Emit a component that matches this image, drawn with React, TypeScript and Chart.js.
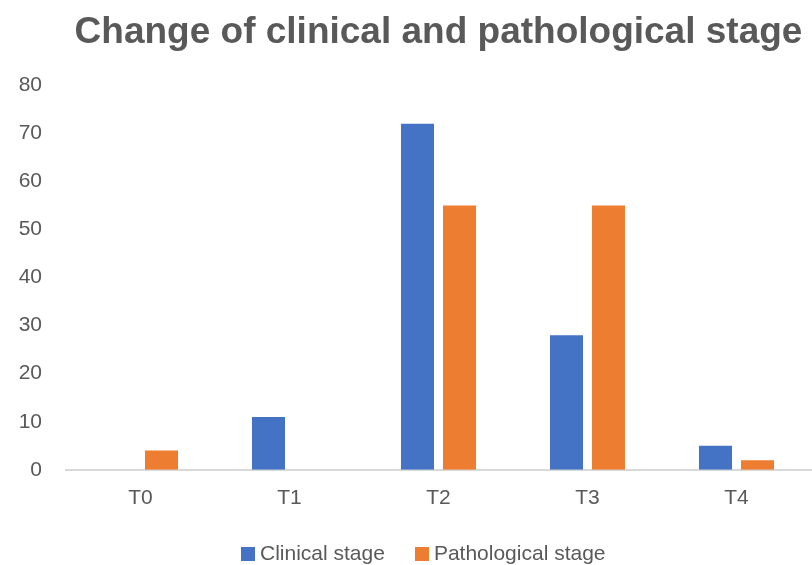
import React, { useEffect, useRef } from "react";
import { Chart, registerables } from "chart.js";

Chart.register(...registerables);

const categories = ["T0", "T1", "T2", "T3", "T4"];
const clinicalStage = [0, 11, 72, 28, 5];
const pathologicalStage = [4, 0, 55, 55, 2];
const seriesNames = ["Clinical stage", "Pathological stage"];
const seriesColors = ["#4472C4", "#ED7D31"];
const chartTitle = "Change of clinical and pathological stage";
const yMin = 0;
const yMax = 80;
const yStep = 10;

const FONT = "'Liberation Sans', Arial, Helvetica, sans-serif";
const TEXT = "#595959";

function makeSwatch(color: string, size: number): HTMLCanvasElement {
  const c = document.createElement("canvas");
  c.width = size;
  c.height = size;
  const g = c.getContext("2d");
  if (g) {
    g.fillStyle = color;
    g.fillRect(0, 0, size, size);
  }
  return c;
}

export default function App() {
  const ref = useRef<HTMLCanvasElement | null>(null);

  useEffect(() => {
    document.body.style.margin = "0";
    if (!ref.current) return;
    const swatches = seriesColors.map((c) => makeSwatch(c, 14));
    const chart = new Chart(ref.current, {
      type: "bar",
      data: {
        labels: categories,
        datasets: [
          {
            label: seriesNames[0],
            data: clinicalStage,
            backgroundColor: seriesColors[0],
            barPercentage: 0.786,
            categoryPercentage: 0.564,
          },
          {
            label: seriesNames[1],
            data: pathologicalStage,
            backgroundColor: seriesColors[1],
            barPercentage: 0.786,
            categoryPercentage: 0.564,
          },
        ],
      },
      options: {
        animation: false,
        responsive: true,
        maintainAspectRatio: false,
        layout: { padding: { left: 41, right: 1, top: 0, bottom: -9.5 } },
        plugins: {
          title: {
            display: true,
            text: chartTitle,
            color: TEXT,
            fullSize: false,
            font: { family: FONT, size: 37, weight: "bold" },
            padding: { top: 11, bottom: 30 },
          },
          legend: {
            position: "bottom",
            labels: {
              usePointStyle: true,
              pointStyleWidth: 3,
              boxHeight: 14,
              color: TEXT,
              padding: 35.5,
              font: { family: FONT, size: 21 },
              generateLabels: (ch: any) => {
                const items = (Chart.defaults.plugins.legend.labels as any).generateLabels(ch);
                return items.map((it: any, i: number) => ({
                  ...it,
                  pointStyle: swatches[i % swatches.length],
                }));
              },
            },
          },
          tooltip: { enabled: false },
        },
        scales: {
          x: {
            grid: { display: false },
            border: { display: true, color: "#D9D9D9", width: 2 },
            ticks: { color: TEXT, font: { family: FONT, size: 21 }, padding: 8 },
            afterFit: (scale: any) => {
              scale.height = scale.height - 11;
            },
          },
          y: {
            min: yMin,
            max: yMax,
            grid: { display: false },
            border: { display: false },
            ticks: {
              stepSize: yStep,
              color: TEXT,
              font: { family: FONT, size: 21 },
              mirror: true,
              crossAlign: "far",
              padding: -47.35,
            },
            afterFit: (scale: any) => {
              scale.width = 25;
            },
          },
        },
      },
    });
    return () => chart.destroy();
  }, []);

  return (
    <div style={{ position: "absolute", left: 0, top: 0, width: 812, height: 565 }}>
      <canvas ref={ref} />
    </div>
  );
}
